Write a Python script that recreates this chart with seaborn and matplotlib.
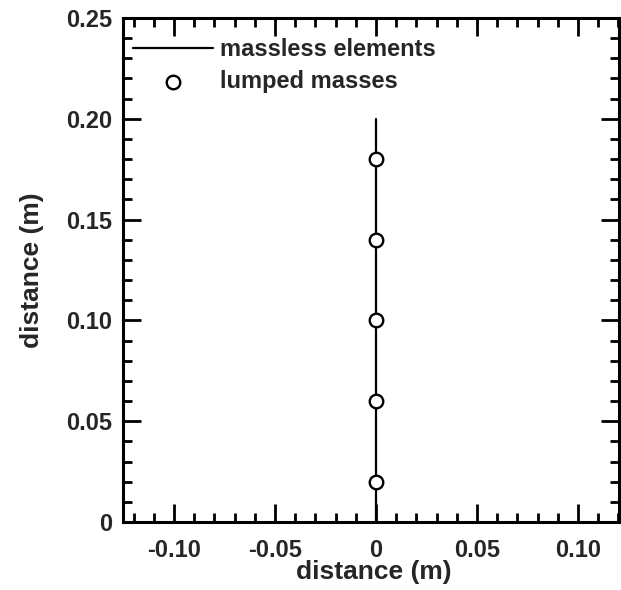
import matplotlib
matplotlib.use("Agg")
import matplotlib.pyplot as plt
from matplotlib.ticker import MultipleLocator, FixedLocator
import seaborn as sns
import pandas as pd

element_x = [0.0, 0.0]
element_y = [0.0, 0.20]
mass_x = [0.0, 0.0, 0.0, 0.0, 0.0]
mass_y = [0.02, 0.06, 0.10, 0.14, 0.18]
xticks = [-0.10, -0.05, 0.0, 0.05, 0.10]
xticklabels = ["-0.10", "-0.05", "0", "0.05", "0.10"]
yticks = [0.0, 0.05, 0.10, 0.15, 0.20, 0.25]
yticklabels = ["0", "0.05", "0.10", "0.15", "0.20", "0.25"]

sns.set_style("ticks")
plt.rcParams['font.family'] = ['Liberation Sans', 'DejaVu Sans']
plt.rcParams['font.weight'] = 'bold'

W, H = 621, 590
L, R, T, B = 123, 619, 18, 522
fig = plt.figure(figsize=(W / 100, H / 100), dpi=100)
ax = fig.add_axes([L / W, (H - B) / H, (R - L) / W, (B - T) / H])

df_e = pd.DataFrame({"x": element_x, "y": element_y})
df_m = pd.DataFrame({"x": mass_x, "y": mass_y})
sns.lineplot(data=df_e, x="x", y="y", ax=ax, color="black", linewidth=1.6,
             sort=False, estimator=None, errorbar=None, label="massless elements", zorder=2)
sns.scatterplot(data=df_m, x="x", y="y", ax=ax, s=95, facecolor="white",
                edgecolor="black", linewidth=1.7, label="lumped masses", zorder=3)

ax.set_xlim(-0.1252, 0.1203)
ax.set_ylim(0, 0.25)
ax.xaxis.set_major_locator(FixedLocator(xticks))
ax.set_xticklabels(xticklabels)
ax.yaxis.set_major_locator(FixedLocator(yticks))
ax.set_yticklabels(yticklabels)
ax.xaxis.set_minor_locator(MultipleLocator(0.01))
ax.yaxis.set_minor_locator(MultipleLocator(0.01))
ax.tick_params(which='both', direction='in', top=True, right=True, width=2.0, color='black')
ax.tick_params(which='major', length=13, labelsize=17)
ax.tick_params(axis='x', which='major', pad=12)
ax.tick_params(axis='y', which='major', pad=8)
ax.tick_params(which='minor', length=6.5)
for lab in ax.get_xticklabels() + ax.get_yticklabels():
    lab.set_fontweight('bold')
for s in ax.spines.values():
    s.set_linewidth(2.2)
    s.set_color('black')

ax.set_xlabel("distance (m)", fontsize=19, fontweight='bold')
ax.set_ylabel("distance (m)", fontsize=19, fontweight='bold')
ax.xaxis.set_label_coords(0.505, -(560 - B) / (B - T))
ax.yaxis.set_label_coords(-(L - 44) / (R - L), 0.5)

leg = ax.legend(loc='upper left', bbox_to_anchor=(10 / (R - L), 1 - 20 / (B - T)),
                frameon=False, handlelength=3.4, handletextpad=0.3,
                borderaxespad=0.0, borderpad=0.0, labelspacing=0.4,
                prop={'weight': 'bold', 'size': 17})

fig.savefig("out.png", dpi=100)
